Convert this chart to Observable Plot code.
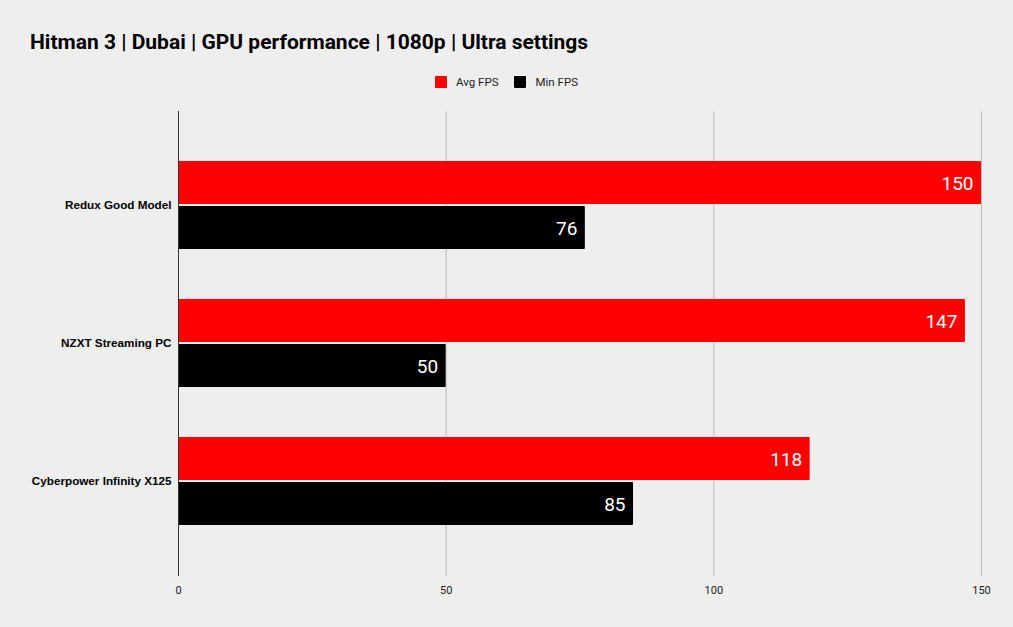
<!DOCTYPE html>
<html>
<head>
<meta charset="utf-8">
<script src="https://cdn.jsdelivr.net/npm/d3@7"></script>
<script src="https://cdn.jsdelivr.net/npm/@observablehq/plot@0.6"></script>
<style>
  html, body { margin: 0; padding: 0; background: #eeeeee; }
  #wrap { width: 1013px; height: 627px; position: relative; overflow: hidden; background: #eeeeee; }
  #title { position: absolute; left: 30px; top: 30px; font-family: Roboto, "Liberation Sans", sans-serif; font-weight: bold; font-size: 21px; color: #000; white-space: nowrap; }
  #legend { position: absolute; left: 0; top: 75px; width: 1013px; display: flex; justify-content: center; font-family: Roboto, sans-serif; font-size: 11.5px; color: #222; }
  .item { display: flex; align-items: center; margin: 0 8px; }
  .sw { width: 12px; height: 12px; border-radius: 1px; margin-right: 9px; }
  #chart { position: absolute; left: 0; top: 100px; }
</style>
</head>
<body>
<div id="wrap">
  <div id="title"></div>
  <div id="legend"></div>
  <div id="chart"></div>
</div>
<script>
const titleText = "Hitman 3 | Dubai | GPU performance | 1080p | Ultra settings";
const categories = ["Redux Good Model", "NZXT Streaming PC", "Cyberpower Infinity X125"];
const seriesNames = ["Avg FPS", "Min FPS"];
const seriesColors = ["#ff0000", "#000000"];
const avgFps = [150, 147, 118];
const minFps = [76, 50, 85];
const xTicks = [0, 50, 100, 150];

document.getElementById("title").textContent = titleText;
const legend = document.getElementById("legend");
seriesNames.forEach((s, i) => {
  const it = document.createElement("div");
  it.className = "item";
  const sw = document.createElement("div");
  sw.className = "sw";
  sw.style.background = seriesColors[i];
  const tx = document.createElement("span");
  tx.textContent = s;
  it.appendChild(sw); it.appendChild(tx);
  legend.appendChild(it);
});

const avgRows = categories.map((c, i) => ({category: c, series: seriesNames[0], value: avgFps[i]}));
const minRows = categories.map((c, i) => ({category: c, series: seriesNames[1], value: minFps[i]}));

const chart = Plot.plot({
  width: 1013,
  height: 527,
  marginTop: 11,
  marginBottom: 51,
  marginLeft: 178,
  marginRight: 32,
  style: {background: "transparent", fontFamily: "Roboto, sans-serif"},
  x: {domain: [0, 150], ticks: xTicks, label: null, tickSize: 0, tickPadding: 10},
  y: {domain: categories, paddingInner: 0.36, paddingOuter: 0.354, label: null, tickSize: 0, tickPadding: 7},
  color: {domain: seriesNames, range: seriesColors},
  marks: [
    Plot.ruleX(xTicks.slice(1), {stroke: "#bbbbbb", strokeWidth: 1}),
    Plot.barX(avgRows, {x: "value", y: "category", fill: "series", insetBottom: 45, rx: 1}),
    Plot.barX(minRows, {x: "value", y: "category", fill: "series", insetTop: 45, rx: 1}),
    Plot.ruleX([0], {stroke: "#333333", strokeWidth: 1}),
    Plot.text(avgRows, {x: "value", y: "category", text: d => String(d.value), dy: -22, dx: -8, textAnchor: "end", fill: "white", fontSize: 19}),
    Plot.text(minRows, {x: "value", y: "category", text: d => String(d.value), dy: 23, dx: -8, textAnchor: "end", fill: "white", fontSize: 19}),
    Plot.axisX({ticks: xTicks, tickSize: 0, tickPadding: 10, fontSize: 11, fill: "#222", label: null}),
    Plot.axisY({tickSize: 0, tickPadding: 7, fontSize: 11.7, fontWeight: "bold", fill: "#000", fontFamily: "'Liberation Sans', Arial, sans-serif", label: null})
  ]
});
document.getElementById("chart").appendChild(chart);
</script>
</body>
</html>
